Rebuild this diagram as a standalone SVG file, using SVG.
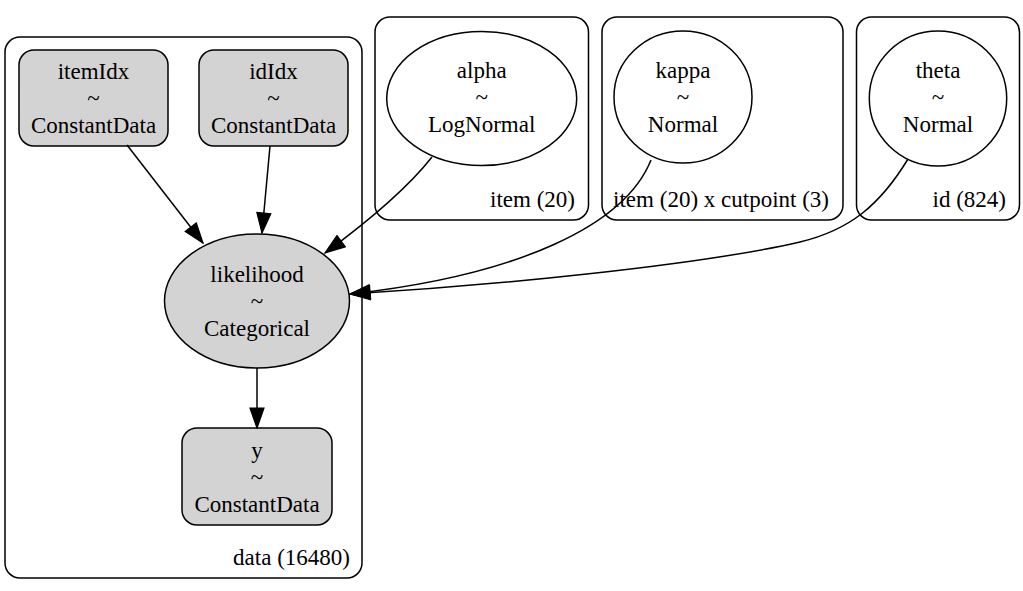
<svg xmlns="http://www.w3.org/2000/svg" width="1023" height="591" viewBox="0 0 1023 591">
<style>
text{font-family:"Liberation Serif","Times New Roman",serif;font-size:23px;fill:#000;text-anchor:middle}
.lbl{text-anchor:end}
.cl{fill:none;stroke:#000;stroke-width:1.5}
.obs{fill:#d3d3d3;stroke:#000;stroke-width:1.5}
.free{fill:#fff;stroke:#000;stroke-width:1.5}
.e{fill:none;stroke:#000;stroke-width:1.5;marker-end:url(#ah)}
</style>
<defs>
<marker id="ah" markerUnits="userSpaceOnUse" markerWidth="22" markerHeight="16" refX="20" refY="7" orient="auto" viewBox="-1 -1 22 16">
<path d="M0,0 L20,7 L0,14 z" fill="#000" stroke="#000" stroke-width="1.2"/>
</marker>
</defs>
<rect width="1023" height="591" fill="#fff"/>
<g id="clusters">
<g id="cluster_data"><rect class="cl" x="5" y="37" width="357" height="541" rx="15"/><text class="lbl" x="350" y="565">data (16480)</text></g>
<g id="cluster_item"><rect class="cl" x="375" y="17" width="213.5" height="203" rx="15"/><text class="lbl" x="575" y="207">item (20)</text></g>
<g id="cluster_item_cutpoint"><rect class="cl" x="602" y="17" width="241" height="203" rx="15"/><text class="lbl" x="829" y="207">item (20) x cutpoint (3)</text></g>
<g id="cluster_id"><rect class="cl" x="856.5" y="17" width="163" height="203" rx="15"/><text class="lbl" x="1006" y="207">id (824)</text></g>
</g>
<g id="itemIdx"><rect class="obs" x="19" y="50" width="149" height="96" rx="15"/><text x="93.5" y="79">itemIdx</text><text x="93.5" y="106">~</text><text x="93.5" y="133">ConstantData</text></g>
<g id="idIdx"><rect class="obs" x="199" y="50" width="149" height="96" rx="15"/><text x="273.5" y="79">idIdx</text><text x="273.5" y="106">~</text><text x="273.5" y="133">ConstantData</text></g>
<g id="alpha"><ellipse class="free" cx="481.7" cy="98.5" rx="95" ry="67"/><text x="481.7" y="78">alpha</text><text x="481.7" y="105">~</text><text x="481.7" y="132">LogNormal</text></g>
<g id="kappa"><ellipse class="free" cx="683" cy="97" rx="69" ry="66"/><text x="683" y="78">kappa</text><text x="683" y="105">~</text><text x="683" y="132">Normal</text></g>
<g id="theta"><ellipse class="free" cx="938" cy="98.5" rx="68.7" ry="67.5"/><text x="938" y="78">theta</text><text x="938" y="105">~</text><text x="938" y="132">Normal</text></g>
<g id="likelihood"><ellipse class="obs" cx="257" cy="301" rx="92.5" ry="67"/><text x="257" y="282">likelihood</text><text x="257" y="309">~</text><text x="257" y="336">Categorical</text></g>
<g id="y"><rect class="obs" x="182" y="428" width="150" height="97" rx="15"/><text x="257" y="458">y</text><text x="257" y="485">~</text><text x="257" y="512">ConstantData</text></g>
<g id="edges">
<path class="e" d="M127,145 L203,243"/>
<path class="e" d="M270,146 L262,233"/>
<path class="e" d="M432,157 C410,185 370,220 325,253"/>
<path class="e" d="M651,160 C625,225 520,275 350,294"/>
<path class="e" d="M908,159 C880,205 850,230 800,242 C700,265 500,285 350,294"/>
<path class="e" d="M257,368 L257,428"/>
</g>
</svg>
